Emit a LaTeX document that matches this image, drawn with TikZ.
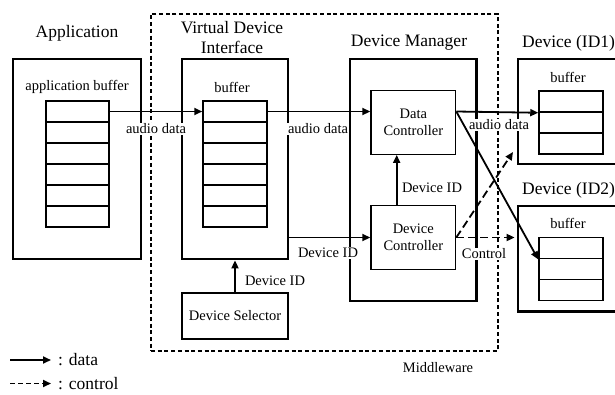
\documentclass[tikz,border=0pt]{standalone}
\usepackage{fontspec}
\setmainfont{Liberation Serif}
\usetikzlibrary{arrows.meta}
\tikzset{
    every node/.style={font=\fontsize{14.5}{17.5}\selectfont, inner sep=1pt}
}
\tikzset{
    title/.style={font=\fontsize{17.5}{20}\selectfont, align=center},
    box/.style={draw, line width=2.8pt},
    cell/.style={draw, line width=1.5pt, minimum width=64pt, minimum height=21pt},
    ctrl/.style={draw, line width=1.3pt, minimum width=84.7pt,
    	minimum height=63.5pt, align=center},
    tag/.style={fill=white},
    data/.style={-{Triangle[length=8pt,width=7pt]}, line width=1.8pt},
    control/.style={data, dash pattern=on 8pt off 4pt}
}

\begin{document}
\begin{tikzpicture}[x=1pt, y=-1pt]
  \useasboundingbox (0,0) rectangle (615,394);
  \node (mw) [draw, line width=1.8pt, dash pattern=on 4pt off 2.7pt,
  	minimum width=346.7pt, minimum height=337pt] at (324.35,182.5) {};
  \node (app) [box, minimum width=128pt, minimum height=200pt] at (77,159) {};
  \node (vdi) [box, minimum width=106pt, minimum height=200pt] at (235,159) {};
  \node (dm) [box, minimum width=126.7pt, minimum height=242pt] at (413.3,180) {};
  \node (id1) [box, minimum width=112pt, minimum height=105pt] at (574,111.5) {};
  \node (id2) [box, minimum width=112pt, minimum height=105.7pt] at (574,258.85) {};
  \node (ds) [box, line width=2.4pt, minimum width=106pt, minimum height=46.3pt]
  	at (235,316) {Device Selector};
  \node (dctl) [ctrl] at (413.3,122.5) {Data\\Controller};
  \node (dc) [ctrl] at (413.3,237.5) {Device\\Controller};

  \foreach \i in {0,...,5} {
    \node (ab\i) [cell, minimum width=63pt] at (77.5,111.5+21*\i) {};
    \node (vb\i) [cell] at (235,111.5+21*\i) {};
  }
  \foreach \i in {0,1,2} {
    \node (ib\i) [cell] at (571,101.5+21*\i) {};
    \node (jb\i) [cell] at (571,248.2+21*\i) {};
  }

  \node (t1) [title] at (77,33) {Application};
  \node (t2) [title] at (232,38) {Virtual Device\\Interface};
  \node (t3) [title] at (409,43) {Device Manager};
  \node (t4) [title, anchor=west] at (521,43) {Device (ID1)};
  \node (t5) [title, anchor=west] at (521,190) {Device (ID2)};
  \node (b1) at (77,87) {application buffer};
  \node (b2) at (232,87) {buffer};
  \node (b3) at (568,77) {buffer};
  \node (b4) at (568,223) {buffer};
  \node (mwl) at (438,368) {Middleware};

  \node (a1) [tag] at (156,129) {audio data};
  \node (a2) [tag] at (318,129) {audio data};
  \node (a3) [tag] at (499,125) {audio data};
  \node (d1) [tag] at (432,188) {Device ID};
  \node (d2) [tag] at (328,253) {Device ID};
  \node (d3) [tag] at (275,281) {Device ID};
  \node (c1) [tag] at (484,254) {Control};

  \coordinate (tip) at (513,152);
  \draw [data] (ab0.east) -- (vb0.west);
  \draw [data] (vb0.east) -- (vb0 -| dctl.west);
  \draw [data] (vb0 -| dctl.east) -- (ib0.south west);
  \draw [data] (vb0 -| dctl.east) -- (jb0.south west);
  \draw [data] ([xshift=-16.6pt]dc.north) -- ([xshift=-16.6pt]dctl.south);
  \draw [data] (vdi.east |- dc) -- (dc.west);
  \draw [data] (ds.north) -- (vdi.south);
  \draw [control, shorten >=2pt] (dc.east) -- (dc.east -| id2.west);
  \draw [control] (dc.east) -- (tip);

  % legend
  \coordinate (l1) at (10,360); \coordinate (l2) at (51,360);
  \coordinate (l3) at (10,383.5); \coordinate (l4) at (51,383.5);
  \draw [data] (l1) -- (l2);
  \draw [data, dash pattern=on 5pt off 3pt] (l3) -- (l4);
  \node (ld) [title, anchor=west] at (57,360) {: data};
  \node (lc) [title, anchor=west] at (57,383.5) {: control};
\end{tikzpicture}
\end{document}
